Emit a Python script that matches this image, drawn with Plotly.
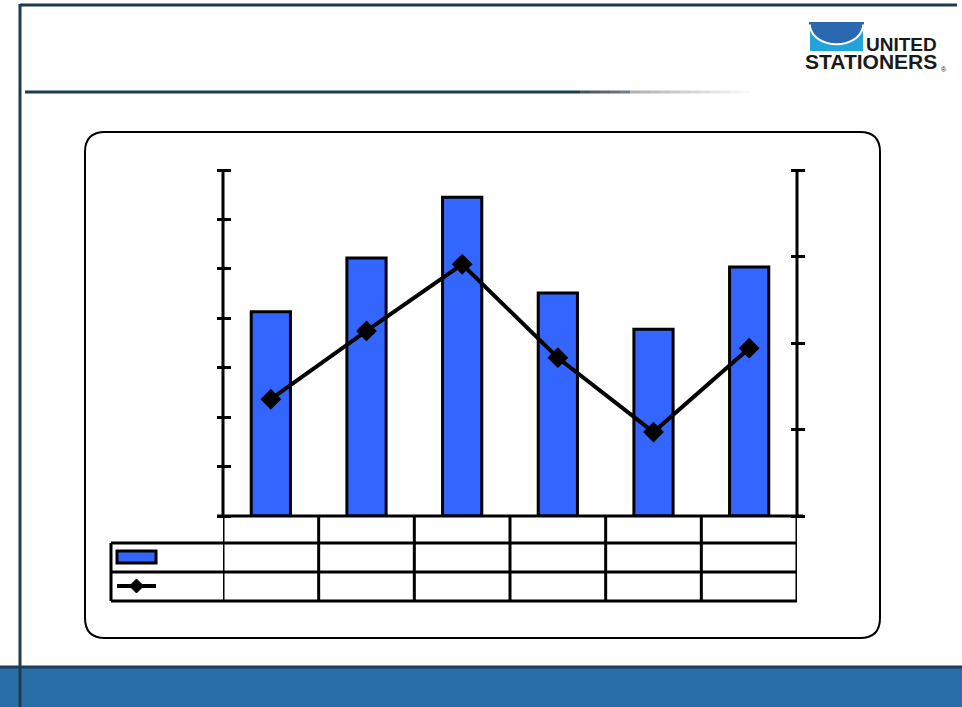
import plotly.graph_objects as go

# ---- data ----
categories = ["1", "2", "3", "4", "5", "6"]
bar_values = [4.13, 5.22, 6.45, 4.51, 3.78, 5.04]      # left axis (0-7)
line_values = [1.35, 2.14, 2.91, 1.83, 0.97, 1.94]     # right axis (0-4)

W, H = 962, 707
def X(px): return px / W
def Y(py): return 1 - py / H

BLUE = "#3366ff"
DARK = "#1f3a4f"

fig = go.Figure()

fig.add_trace(go.Bar(
    x=list(range(len(categories))), y=bar_values, width=0.41,
    marker=dict(color=BLUE, line=dict(color="black", width=3)),
    xaxis="x", yaxis="y", showlegend=False, hoverinfo="skip"))

fig.add_trace(go.Scatter(
    x=list(range(len(categories))), y=line_values, mode="lines+markers",
    line=dict(color="black", width=4),
    marker=dict(symbol="diamond", size=16, color="black"),
    xaxis="x", yaxis="y2", showlegend=False, hoverinfo="skip"))

ydom = [Y(516), Y(170)]
common_y = dict(domain=ydom, showgrid=False, zeroline=False, showticklabels=False,
                showline=False, ticks="outside", ticklen=14, tickwidth=3,
                tickcolor="black", fixedrange=True, dtick=1)

fig.update_layout(
    width=W, height=H, margin=dict(l=0, r=0, t=0, b=0),
    paper_bgcolor="white", plot_bgcolor="rgba(0,0,0,0)",
    xaxis=dict(domain=[X(223), X(797)], range=[-0.5, len(categories) - 0.5],
               showgrid=False, zeroline=False, showticklabels=False,
               showline=False, ticks="", anchor="y", fixedrange=True),
    yaxis=dict(range=[0, 7], side="left", anchor="free", position=X(230.5), **common_y),
    yaxis2=dict(range=[0, 4], side="right", anchor="free", position=X(790),
                overlaying="y", **common_y),
    bargap=0.5,
)

shapes = []

# rounded chart box
x0, x1, y0, y1, r = 85, 880, 132, 638, 20
path = (f"M {X(x0+r)},{Y(y0)} L {X(x1-r)},{Y(y0)} Q {X(x1)},{Y(y0)} {X(x1)},{Y(y0+r)} "
        f"L {X(x1)},{Y(y1-r)} Q {X(x1)},{Y(y1)} {X(x1-r)},{Y(y1)} "
        f"L {X(x0+r)},{Y(y1)} Q {X(x0)},{Y(y1)} {X(x0)},{Y(y1-r)} "
        f"L {X(x0)},{Y(y0+r)} Q {X(x0)},{Y(y0)} {X(x0+r)},{Y(y0)} Z")
shapes.append(dict(type="path", path=path, xref="paper", yref="paper",
                   line=dict(color="black", width=2), fillcolor="rgba(0,0,0,0)", layer="below"))

# axis lines (left / right value axes, category axis)
shapes.append(dict(type="line", xref="paper", yref="paper", x0=X(223), x1=X(223),
                   y0=Y(170), y1=Y(516), line=dict(color="black", width=3)))
shapes.append(dict(type="line", xref="paper", yref="paper", x0=X(797), x1=X(797),
                   y0=Y(170), y1=Y(516), line=dict(color="black", width=3)))
shapes.append(dict(type="line", xref="paper", yref="paper", x0=X(217), x1=X(803),
                   y0=Y(516), y1=Y(516), line=dict(color="black", width=3)))

# data table grid
row_y = [516, 543, 572, 601]
n = len(categories)
for k in range(n + 1):
    shapes.append(dict(type="line", xref="x", yref="paper", x0=k - 0.5, x1=k - 0.5,
                       y0=Y(516), y1=Y(601), line=dict(color="black", width=3)))
for ry in row_y[1:]:
    shapes.append(dict(type="line", xref="paper", yref="paper", x0=X(111), x1=X(797),
                       y0=Y(ry), y1=Y(ry), line=dict(color="black", width=3)))
shapes.append(dict(type="line", xref="paper", yref="paper", x0=X(111), x1=X(111),
                   y0=Y(543), y1=Y(601), line=dict(color="black", width=3)))

# legend keys in table
shapes.append(dict(type="rect", xref="paper", yref="paper", x0=X(117), x1=X(156),
                   y0=Y(563), y1=Y(551), fillcolor=BLUE, line=dict(color="black", width=3)))
shapes.append(dict(type="line", xref="paper", yref="paper", x0=X(117), x1=X(156),
                   y0=Y(586), y1=Y(586), line=dict(color="black", width=4)))
cx, cy, d = 136.5, 586, 7
shapes.append(dict(type="path", xref="paper", yref="paper",
                   path=f"M {X(cx)},{Y(cy-d)} L {X(cx+d)},{Y(cy)} L {X(cx)},{Y(cy+d)} L {X(cx-d)},{Y(cy)} Z",
                   fillcolor="black", line=dict(color="black", width=1)))

# header frame
shapes.append(dict(type="line", xref="paper", yref="paper", x0=X(20), x1=X(957),
                   y0=Y(5), y1=Y(5), line=dict(color=DARK, width=3)))
shapes.append(dict(type="line", xref="paper", yref="paper", x0=X(20), x1=X(20),
                   y0=Y(4), y1=Y(707), line=dict(color=DARK, width=3)))
shapes.append(dict(type="line", xref="paper", yref="paper", x0=X(25), x1=X(580),
                   y0=Y(92), y1=Y(92), line=dict(color=DARK, width=3)))
steps = 17
for i in range(steps):
    a = X(580 + i * 10)
    b = X(580 + (i + 1) * 10)
    op = 1 - (i + 1) / (steps + 1)
    shapes.append(dict(type="line", xref="paper", yref="paper", x0=a, x1=b,
                       y0=Y(92), y1=Y(92), opacity=op,
                       line=dict(color="#3a4a58" if i < 5 else "#8a8a8a", width=3)))

# footer band
shapes.append(dict(type="rect", xref="paper", yref="paper", x0=0, x1=1,
                   y0=0, y1=Y(666), fillcolor="#2a6ea8", line=dict(width=0), layer="below"))
shapes.append(dict(type="line", xref="paper", yref="paper", x0=0, x1=1,
                   y0=Y(667), y1=Y(667), line=dict(color="#1b3c5c", width=3)))

# logo
shapes.append(dict(type="rect", xref="paper", yref="paper", x0=X(810), x1=X(863),
                   y0=Y(51), y1=Y(23), fillcolor="#22a3dd", line=dict(width=0)))
shapes.append(dict(type="path", xref="paper", yref="paper",
                   path=(f"M {X(810)},{Y(23)} L {X(863)},{Y(23)} L {X(863)},{Y(27)} "
                         f"C {X(858)},{Y(50)} {X(815)},{Y(50)} {X(810)},{Y(27)} Z"),
                   fillcolor="#2a68b0", line=dict(color="white", width=2)))
shapes.append(dict(type="rect", xref="paper", yref="paper", x0=X(809), x1=X(864),
                   y0=Y(24.5), y1=Y(22), fillcolor="#2a68b0", line=dict(width=0)))

fig.update_layout(shapes=shapes)

annotations = [
    dict(text="<b>UNITED</b>", x=X(938), y=Y(44.5), xref="paper", yref="paper",
         xanchor="right", yanchor="middle", showarrow=False, borderpad=0,
         font=dict(family="Liberation Sans", size=19, color="#1a1a1a", weight=900)),
    dict(text="<b>STATIONERS</b>", x=X(938), y=Y(61.5), xref="paper", yref="paper",
         xanchor="right", yanchor="middle", showarrow=False, borderpad=0,
         font=dict(family="Liberation Sans", size=21, color="#1a1a1a", weight=900)),
    dict(text="®", x=X(940), y=Y(69), xref="paper", yref="paper",
         xanchor="left", yanchor="middle", showarrow=False, borderpad=0,
         font=dict(family="Liberation Sans", size=7, color="#1a1a1a")),
]
fig.update_layout(annotations=annotations)

fig.write_html("out.html", config={"displayModeBar": False},
               post_script="document.body.style.margin='0';document.body.style.overflow='hidden';")
